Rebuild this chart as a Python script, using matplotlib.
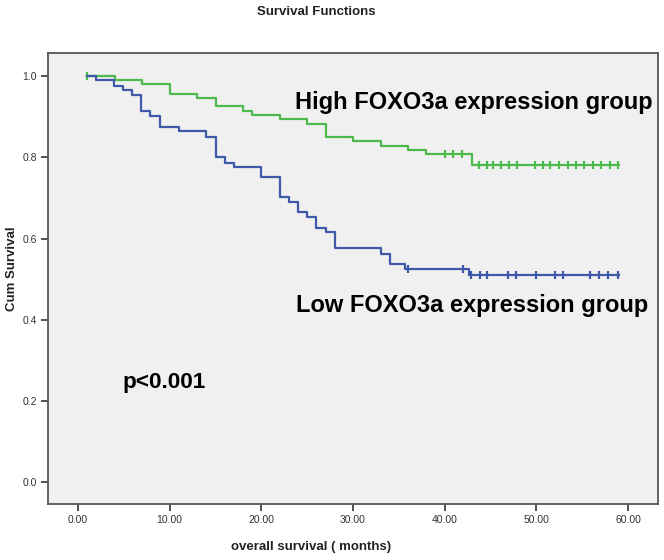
import numpy as np
import matplotlib
matplotlib.use('Agg')
import matplotlib.pyplot as plt

plt.rcParams['font.family'] = ['Liberation Sans', 'DejaVu Sans']

# Kaplan-Meier steps
high_times = [1, 4, 7, 10, 13, 15, 18, 19, 22, 25, 27, 30, 33, 36, 38, 43, 59]
high_surv = [1.0, 0.990, 0.980, 0.957, 0.947, 0.926, 0.915, 0.904, 0.894, 0.883,
             0.849, 0.840, 0.828, 0.818, 0.807, 0.782, 0.782]
high_censored = [1.0, 40.0, 40.9, 41.9, 43.7, 44.6, 45.3, 46.1, 47.0, 47.9, 49.9,
                 50.7, 51.5, 52.5, 53.4, 54.3, 55.2, 56.2, 57.0, 58.0, 58.9]

low_times = [1, 2, 3.9, 4.9, 5.9, 6.9, 7.9, 8.9, 11, 14, 15, 16, 17, 20, 22, 23,
             24, 25, 26, 27, 28, 33, 34, 35.7, 42.7, 59]
low_surv = [1.0, 0.990, 0.975, 0.966, 0.953, 0.915, 0.901, 0.875, 0.865, 0.851,
            0.801, 0.787, 0.777, 0.752, 0.701, 0.689, 0.666, 0.652, 0.627, 0.615,
            0.576, 0.563, 0.537, 0.525, 0.510, 0.510]
low_censored = [36.0, 42.0, 42.9, 43.8, 44.6, 46.9, 47.8, 50.0, 52.0, 52.9,
                55.8, 56.8, 57.8, 58.9]

x_ticks = [0, 10, 20, 30, 40, 50, 60]
y_ticks = [0.0, 0.2, 0.4, 0.6, 0.8, 1.0]

green = '#4cbb4c'
blue = '#3f58a9'


def surv_at(times, surv, t):
    idx = np.searchsorted(times, t, side='right') - 1
    return np.asarray(surv)[idx]


fig = plt.figure(figsize=(6.64, 5.60), dpi=100)
fig.patch.set_facecolor('white')
ax = fig.add_axes([0.0723, 0.1, 0.9187, 0.8054])
ax.set_facecolor('#f0f0f0')

ax.step(high_times, high_surv, where='post', color=green, lw=1.6, zorder=3)
ax.plot(high_censored, surv_at(high_times, high_surv, high_censored), ls='none',
        marker='|', ms=6, mew=1.6, color=green, zorder=3)
ax.step(low_times, low_surv, where='post', color=blue, lw=1.6, zorder=4)
ax.plot(low_censored, surv_at(low_times, low_surv, low_censored), ls='none',
        marker='|', ms=6, mew=1.6, color=blue, zorder=4)

ax.set_xlim(-3.27, 63.27)
ax.set_ylim(-0.054, 1.057)
ax.set_xticks(x_ticks)
ax.set_xticklabels(['%.2f' % v for v in x_ticks])
ax.set_yticks(y_ticks)
ax.set_yticklabels(['%.1f' % v for v in y_ticks])
ax.tick_params(direction='out', length=5, width=1.2, color='#333333',
               labelsize=7.5, labelcolor='#333333', pad=3)
for s in ax.spines.values():
    s.set_color('#555555')
    s.set_linewidth(1.3)

ax.text(23.7, 0.935, 'High FOXO3a expression group', fontsize=17, fontweight='bold',
        ha='left', va='center')
ax.text(23.8, 0.435, 'Low FOXO3a expression group', fontsize=17, fontweight='bold',
        ha='left', va='center')
ax.text(4.8, 0.245, 'p<0.001', fontsize=16.2, fontweight='bold', ha='left', va='center')

fig.text(0.476, 0.978, 'Survival Functions', fontsize=9.5, fontweight='bold',
         ha='center', va='center', color='#222222')
fig.text(0.468, 0.023, 'overall survival ( months)', fontsize=9.5, fontweight='bold',
         ha='center', va='center', color='#222222')
fig.text(0.018, 0.52, 'Cum Survival', fontsize=9.5, fontweight='bold', rotation=90,
         ha='center', va='center', color='#222222')

fig.savefig('out.png', dpi=100, facecolor='white')
